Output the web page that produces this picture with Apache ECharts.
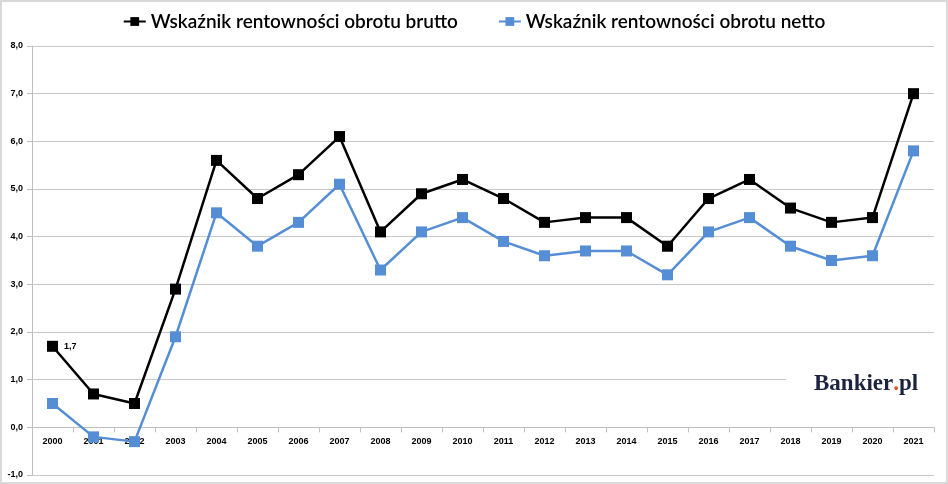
<!DOCTYPE html>
<html>
<head>
<meta charset="utf-8">
<script src="https://cdn.jsdelivr.net/npm/echarts@6/dist/echarts.min.js"></script>
<style>
  html, body { margin: 0; padding: 0; background: #fff; }
  #chart { width: 948px; height: 484px; box-sizing: border-box; border: 2px solid #d9d9d9; }
</style>
</head>
<body>
<div id="chart"></div>
<script>
// lata
const years = ["2000", "2001", "2002", "2003", "2004", "2005", "2006", "2007", "2008", "2009", "2010",
  "2011", "2012", "2013", "2014", "2015", "2016", "2017", "2018", "2019", "2020", "2021"];
// wskaznik brutto / netto (%)
const brutto = [1.7, 0.7, 0.5, 2.9, 5.6, 4.8, 5.3, 6.1, 4.1, 4.9, 5.2, 4.8, 4.3, 4.4, 4.4, 3.8, 4.8, 5.2, 4.6, 4.3, 4.4, 7.0];
const netto = [0.5, -0.2, -0.3, 1.9, 4.5, 3.8, 4.3, 5.1, 3.3, 4.1, 4.4, 3.9, 3.6, 3.7, 3.7, 3.2, 4.1, 4.4, 3.8, 3.5, 3.6, 5.8];
const seriesNames = ["Wskaźnik rentowności obrotu brutto", "Wskaźnik rentowności obrotu netto"];
const labelledIdx = [0];
const yMin = -1, yMax = 8;

const fmt = v => v.toFixed(1).replace(".", ",");

const chart = echarts.init(document.getElementById("chart"));

const gridTop = 44, gridBottom = 7;
const plotH = chart.getHeight() - gridTop - gridBottom;
const zeroFromBottom = plotH * (0 - yMin) / (yMax - yMin);

const bruttoData = brutto.map((v, i) => labelledIdx.includes(i)
  ? { value: v, label: { show: true, position: "right", distance: 6, formatter: p => fmt(p.value), fontSize: 9, fontWeight: "bold", color: "#000", fontFamily: "Liberation Sans" } }
  : v);

chart.setOption({
  animation: false,
  textStyle: { fontFamily: "Lato" },
  legend: {
    top: 5,
    left: "center",
    itemWidth: 22,
    itemHeight: 11,
    itemGap: 40,
    textStyle: { fontSize: 19, color: "#000", fontFamily: "Lato", fontWeight: 600 },
    data: seriesNames
  },
  grid: { left: 30, right: 12, top: gridTop, bottom: gridBottom, outerBoundsMode: "none", containLabel: false },
  xAxis: [
    {
      type: "category",
      data: years,
      boundaryGap: true,
      axisLine: { onZero: true, onZeroAxisIndex: 0, lineStyle: { color: "#bfbfbf", width: 1 } },
      axisTick: { show: true, length: 5, lineStyle: { color: "#bfbfbf" } },
      axisLabel: { show: false }
    },
    {
      // labels only, placed just under the zero line
      type: "category",
      data: years,
      boundaryGap: true,
      position: "bottom",
      offset: -zeroFromBottom,
      axisLine: { show: false, onZero: false },
      axisTick: { show: false },
      axisLabel: { show: true, interval: 0, fontSize: 9, fontWeight: "bold", color: "#000", fontFamily: "Liberation Sans", margin: 10 }
    }
  ],
  yAxis: {
    type: "value",
    min: yMin,
    max: yMax,
    interval: 1,
    axisLine: { show: true, lineStyle: { color: "#bfbfbf", width: 1 } },
    axisTick: { show: true, length: 5, lineStyle: { color: "#bfbfbf" } },
    axisLabel: { fontSize: 9, fontWeight: "bold", color: "#000", fontFamily: "Liberation Sans", margin: 9, formatter: fmt },
    splitLine: { show: true, lineStyle: { color: "#c8c8c8", width: 1 } }
  },
  graphic: [
    { type: "rect", right: 8, top: 364, z: 50, shape: { width: 152, height: 34 }, style: { fill: "#fff" } },
    {
      type: "text", left: 812, top: 371, z: 51,
      style: {
        text: "{a|Bankier}{b|.}{a|pl}",
        rich: {
          a: { fontFamily: "Liberation Serif", fontWeight: "bold", fontSize: 23, fill: "#1b2341" },
          b: { fontFamily: "Liberation Serif", fontWeight: "bold", fontSize: 23, fill: "#e8501e" }
        }
      }
    }
  ],
  series: [
    {
      name: seriesNames[0], type: "line", data: bruttoData, z: 3,
      symbol: "rect", symbolSize: 11,
      lineStyle: { color: "#000", width: 2.5 },
      itemStyle: { color: "#000" }
    },
    {
      name: seriesNames[1], type: "line", data: netto, z: 4,
      symbol: "rect", symbolSize: 11,
      lineStyle: { color: "#558ed5", width: 2.5 },
      itemStyle: { color: "#558ed5" }
    }
  ]
});
</script>
</body>
</html>
